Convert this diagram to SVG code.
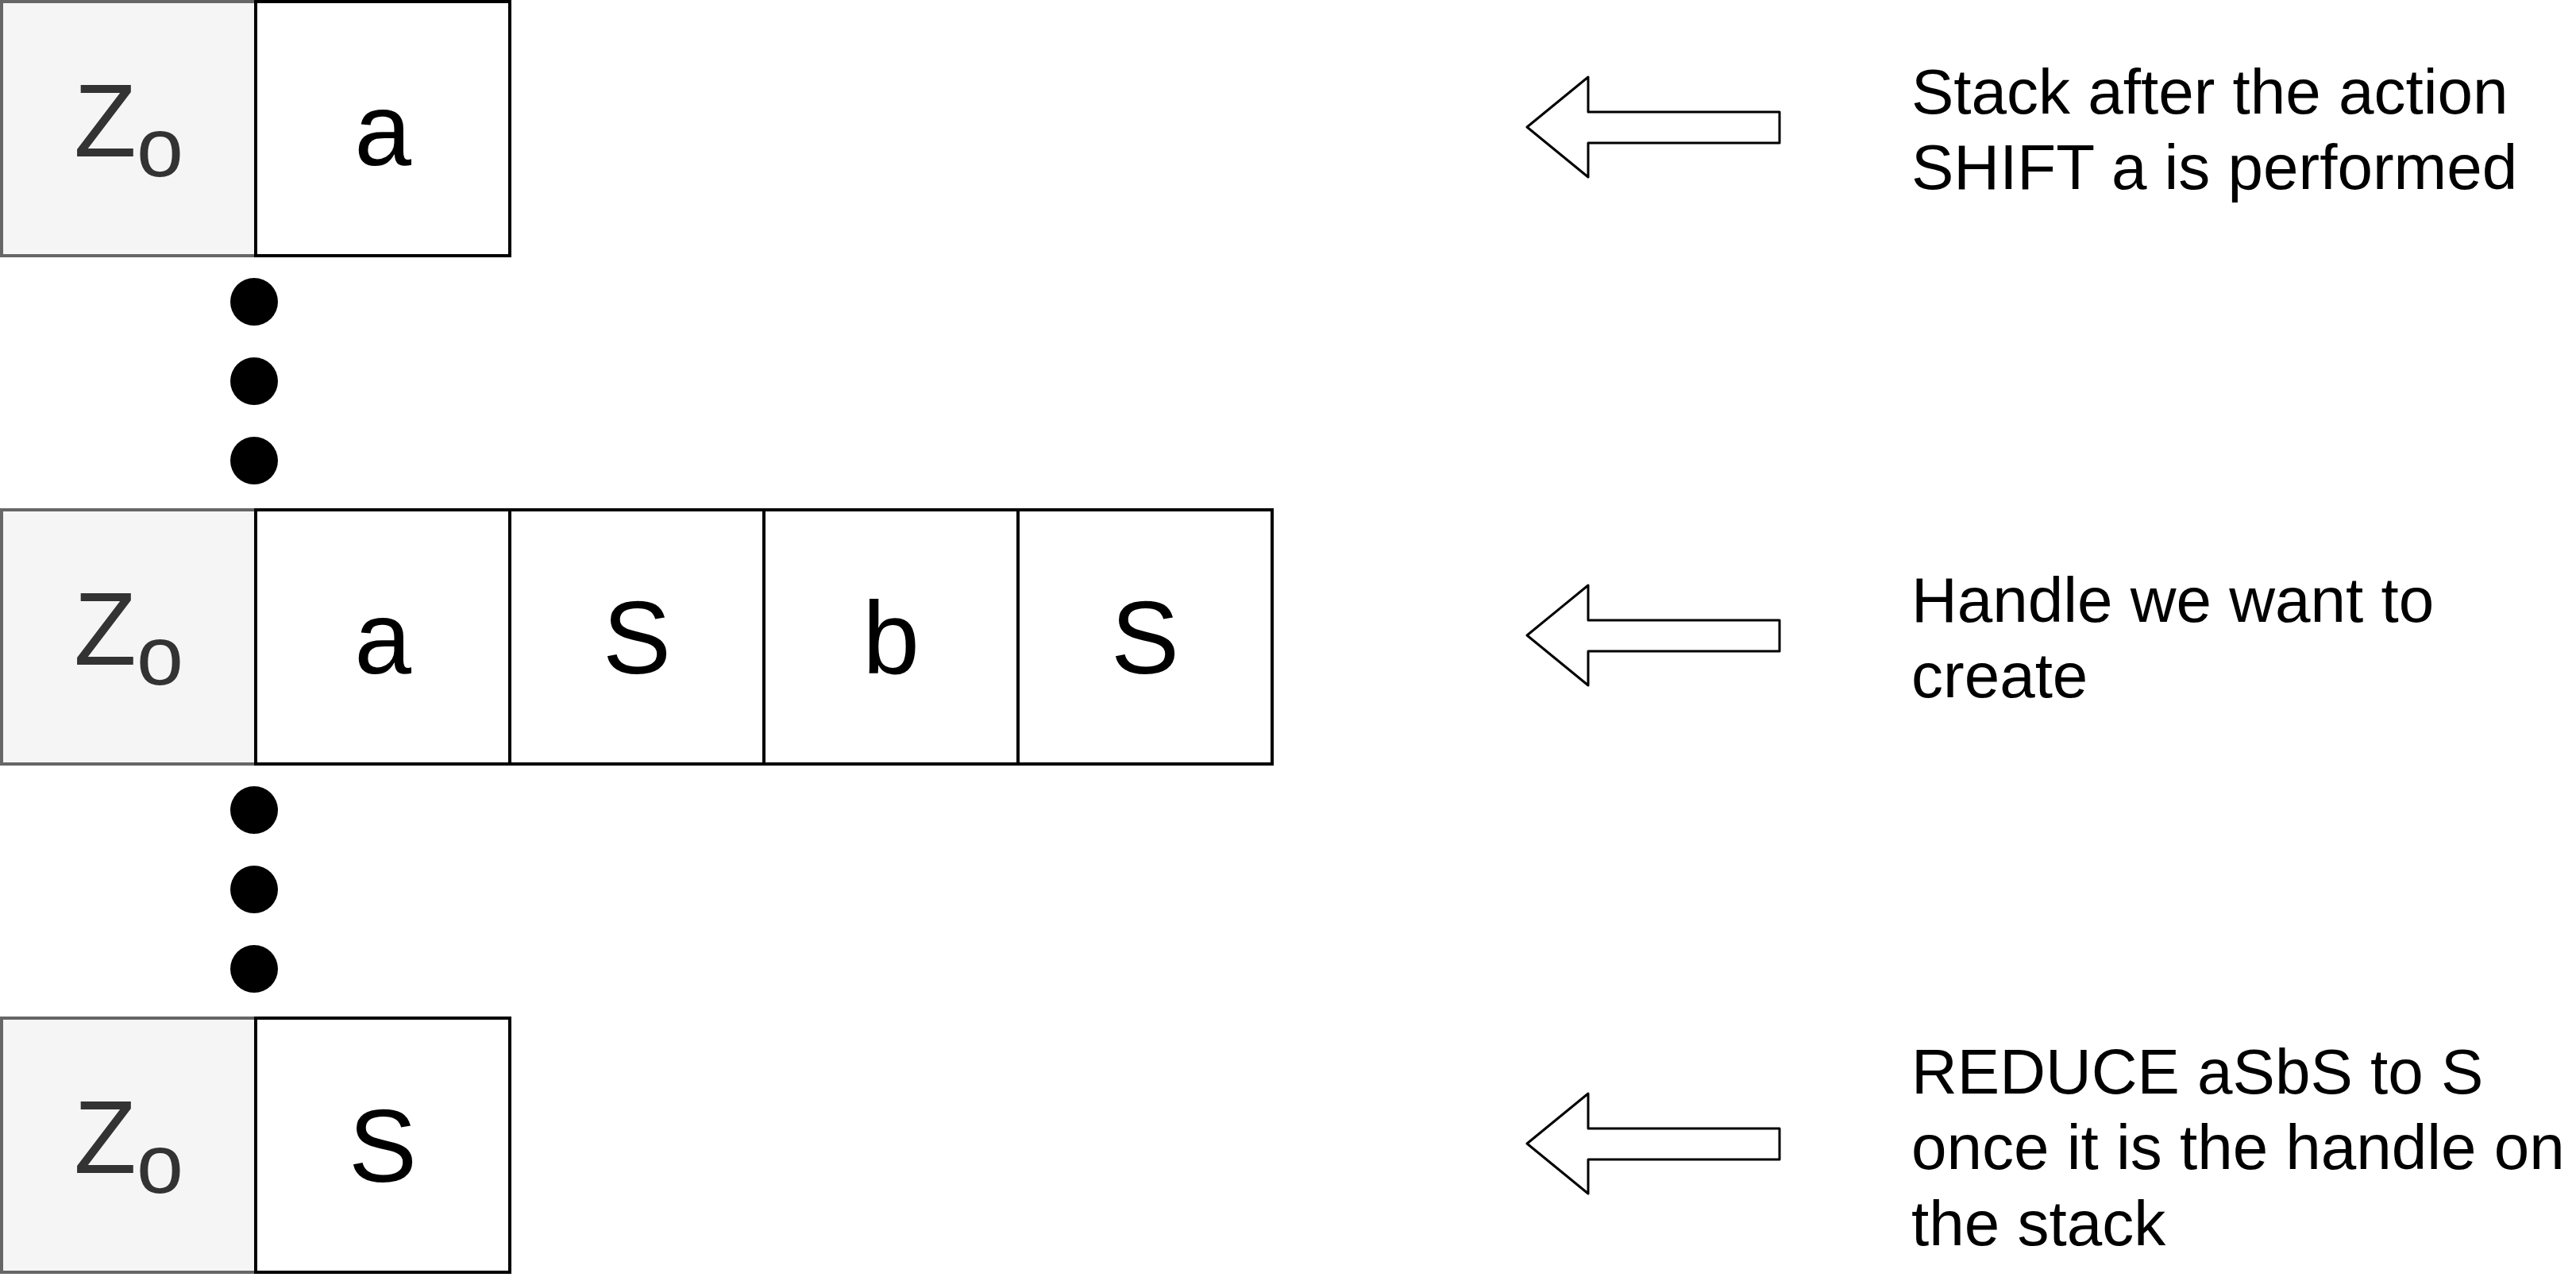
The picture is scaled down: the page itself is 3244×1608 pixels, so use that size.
<svg xmlns="http://www.w3.org/2000/svg" width="3244" height="1608" viewBox="0 0 3244 1608">
<style>
.z{fill:#f5f5f5;stroke:#666666;stroke-width:4}
.c{fill:#ffffff;stroke:#000000;stroke-width:4}
.t{font-family:"Liberation Sans",Arial,sans-serif;font-size:129px;fill:#000000;text-anchor:middle}
.zt{font-family:"Liberation Sans",Arial,sans-serif;font-size:129px;fill:#333333;text-anchor:middle}
.sub{font-size:106px}
.lbl{font-family:"Liberation Sans",Arial,sans-serif;font-size:80px;fill:#000000}
.dot{fill:#000000}
.arr{fill:#ffffff;stroke:#000000;stroke-width:3;stroke-linejoin:round}
</style>
<rect width="3244" height="1608" fill="#ffffff"/>
<defs>
<path id="arrow" d="M0,0 L77,-63 L77,-19 L318,-19 L318,20 L77,20 L77,63 Z"/>
</defs>
<g id="row1">
<g id="r1-z0"><rect class="z" x="2" y="2" width="320" height="320"/><text class="zt" x="162" y="197">Z<tspan class="sub" dy="25">o</tspan></text></g>
<g id="r1-a"><rect class="c" x="322" y="2" width="320" height="320"/><text class="t" x="482" y="208">a</text></g>
</g>
<g id="row2">
<g id="r2-z0"><rect class="z" x="2" y="642" width="320" height="320"/><text class="zt" x="162" y="837">Z<tspan class="sub" dy="25">o</tspan></text></g>
<g id="r2-a"><rect class="c" x="322" y="642" width="320" height="320"/><text class="t" x="482" y="848">a</text></g>
<g id="r2-s1"><rect class="c" x="642" y="642" width="320" height="320"/><text class="t" x="802" y="848">S</text></g>
<g id="r2-b"><rect class="c" x="962" y="642" width="320" height="320"/><text class="t" x="1122" y="848">b</text></g>
<g id="r2-s2"><rect class="c" x="1282" y="642" width="320" height="320"/><text class="t" x="1442" y="848">S</text></g>
</g>
<g id="row3">
<g id="r3-z0"><rect class="z" x="2" y="1282" width="320" height="320"/><text class="zt" x="162" y="1477">Z<tspan class="sub" dy="25">o</tspan></text></g>
<g id="r3-s"><rect class="c" x="322" y="1282" width="320" height="320"/><text class="t" x="482" y="1488">S</text></g>
</g>
<g id="dots1">
<circle class="dot" cx="320" cy="380" r="30"/>
<circle class="dot" cx="320" cy="480" r="30"/>
<circle class="dot" cx="320" cy="580" r="30"/>
</g>
<g id="dots2">
<circle class="dot" cx="320" cy="1020" r="30"/>
<circle class="dot" cx="320" cy="1120" r="30"/>
<circle class="dot" cx="320" cy="1220" r="30"/>
</g>
<g id="connectors">
<use href="#arrow" class="arr" transform="translate(1923,160)"/>
<use href="#arrow" class="arr" transform="translate(1923,800)"/>
<use href="#arrow" class="arr" transform="translate(1923,1440)"/>
</g>
<g id="label1"><text class="lbl" x="2407" y="143">Stack after the action</text><text class="lbl" x="2407" y="238">SHIFT a is performed</text></g>
<g id="label2"><text class="lbl" x="2407" y="783">Handle we want to</text><text class="lbl" x="2407" y="878">create</text></g>
<g id="label3"><text class="lbl" x="2407" y="1377">REDUCE aSbS to S</text><text class="lbl" x="2407" y="1472">once it is the handle on</text><text class="lbl" x="2407" y="1568">the stack</text></g>
</svg>
